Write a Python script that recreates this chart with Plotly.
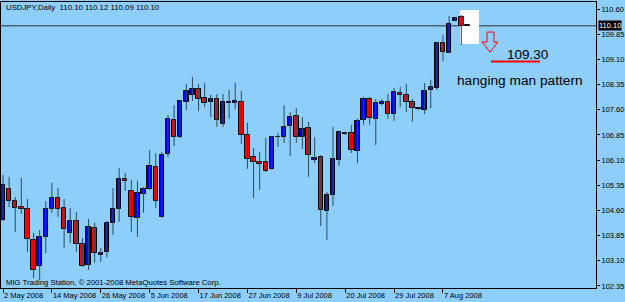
import plotly.graph_objects as go

# ---- data ----
tick_labels = ["2 May 2008", "14 May 2008", "26 May 2008", "5 Jun 2008", "17 Jun 2008",
               "27 Jun 2008", "9 Jul 2008", "20 Jul 2008", "29 Jul 2008", "7 Aug 2008"]
tick_index = [0, 8, 16, 24, 32, 40, 48, 56, 64, 72]

opens = [104.32, 105.24, 104.88, 104.70, 104.64, 103.72, 102.95, 103.81, 104.64, 104.97,
         104.67, 103.93, 104.29, 103.60, 102.98, 104.08, 103.28, 103.37, 104.23, 104.64,
         105.54, 105.18, 104.38, 105.09, 105.24, 105.90, 104.41, 106.28, 107.30, 106.79,
         107.83, 108.04, 108.22, 107.95, 107.83, 107.92, 107.18, 107.83, 107.80, 107.83,
         106.85, 106.19, 106.04, 106.04, 105.84, 106.78, 106.79, 107.12, 107.41, 106.79,
         107.06, 106.10, 106.19, 104.58, 105.06, 106.10, 106.88, 106.91, 106.37, 107.30,
         107.92, 107.33, 107.77, 107.83, 107.47, 108.10, 108.04, 107.83, 107.65, 107.59,
         108.19, 108.25, 109.59, 109.29, 110.24, 110.36, 110.10]
highs = [105.66, 105.60, 105.00, 105.57, 104.94, 103.93, 104.02, 104.88, 105.42, 105.27,
         104.94, 104.67, 104.55, 103.78, 104.35, 104.23, 103.48, 104.29, 105.27, 105.87,
         105.72, 105.51, 105.48, 105.30, 106.40, 106.31, 106.34, 107.44, 107.74, 107.89,
         108.37, 108.58, 108.37, 108.40, 108.04, 108.07, 108.07, 108.19, 108.40, 108.16,
         107.21, 106.46, 106.34, 106.76, 106.82, 106.91, 107.74, 107.53, 107.65, 107.38,
         107.24, 106.79, 106.25, 105.15, 107.09, 106.97, 106.94, 107.15, 107.33, 107.98,
         107.98, 107.92, 107.92, 108.07, 108.25, 108.28, 108.37, 107.92, 107.68, 108.40,
         108.49, 109.62, 109.83, 110.39, 110.36, 110.42, 110.12]
lows = [104.29, 104.70, 103.96, 104.50, 103.37, 102.59, 102.53, 103.33, 104.53, 104.41,
        103.48, 103.63, 103.37, 102.92, 102.83, 103.04, 103.07, 103.21, 103.87, 104.26,
        105.18, 103.96, 103.81, 104.53, 105.21, 104.67, 104.38, 106.19, 106.52, 106.76,
        107.59, 107.86, 107.56, 107.68, 107.38, 107.09, 107.09, 107.33, 107.62, 106.58,
        105.84, 104.97, 105.21, 105.75, 105.81, 106.49, 106.61, 106.22, 106.61, 106.43,
        105.60, 106.01, 104.14, 103.72, 104.73, 105.93, 106.85, 106.31, 106.01, 107.15,
        107.15, 106.55, 107.74, 107.33, 107.27, 107.68, 107.53, 107.24, 107.59, 107.47,
        107.65, 108.19, 109.05, 109.29, 110.24, 109.53, 110.09]
closes = [105.36, 104.88, 104.67, 104.64, 103.75, 102.83, 103.81, 104.64, 104.97, 104.64,
          104.05, 104.29, 103.60, 102.95, 104.11, 103.33, 103.33, 104.23, 104.64, 105.54,
          105.48, 104.41, 105.12, 105.24, 105.93, 104.88, 106.25, 107.33, 106.79, 107.86,
          108.16, 108.22, 107.92, 107.80, 107.92, 107.30, 107.83, 107.80, 107.86, 106.85,
          106.13, 106.04, 105.98, 105.78, 106.79, 106.80, 107.09, 107.38, 106.79, 107.03,
          106.25, 106.16, 104.61, 105.06, 106.13, 106.94, 106.91, 106.40, 107.27, 107.92,
          107.35, 107.80, 107.83, 107.47, 108.13, 108.04, 107.83, 107.65, 107.62, 108.16,
          108.28, 109.59, 109.32, 110.15, 110.33, 110.09, 110.10]
y_ticks = [102.35, 103.10, 103.85, 104.60, 105.35, 106.10, 106.85, 107.60, 108.35, 109.10, 109.85, 110.60]
last_price = 110.10
target_price = 109.30

BG = "#8ECEFA"
FONT = "Liberation Sans"

idx = list(range(len(opens)))

# wicks
wx, wy = [], []
for i, h, l in zip(idx, highs, lows):
    wx += [i, i, None]
    wy += [l, h, None]

# bodies
bases, heights, colors = [], [], []
for o, c in zip(opens, closes):
    lo, hi = min(o, c), max(o, c)
    bases.append(lo)
    heights.append(max(hi - lo, 0.015))
    colors.append("#0000FF" if c >= o else "#FF0000")

fig = go.Figure()
fig.add_trace(go.Scatter(x=wx, y=wy, mode="lines", line=dict(color="#2b4a60", width=1),
                         hoverinfo="skip", showlegend=False))
fig.add_trace(go.Bar(x=idx, y=heights, base=bases, width=0.72,
                     marker=dict(color=colors, line=dict(color="black", width=1)),
                     showlegend=False))

# price line and white box
fig.add_shape(type="line", xref="paper", x0=0, x1=1, yref="y", y0=last_price, y1=last_price,
              line=dict(color="#303030", width=1), layer="below")
fig.add_shape(type="rect", xref="x", yref="y", x0=74.8, x1=77.9, y0=109.56, y1=110.57,
              fillcolor="white", line=dict(width=0), layer="below")
# hollow down arrow
fig.add_shape(type="path",
              path="M 79.2,109.915 L 80.35,109.915 L 80.35,109.617 L 81.0,109.617 "
                   "L 79.7,109.32 L 78.4,109.617 L 79.2,109.617 Z",
              line=dict(color="#FF0000", width=1), fillcolor="rgba(0,0,0,0)")
# red underline
fig.add_shape(type="line", xref="x", yref="y", x0=79.86, x1=87.87, y0=109.04, y1=109.04,
              line=dict(color="#FF0000", width=2))

annotations = [
    dict(text=f"{target_price:.2f}", x=85.75, y=109.245, xref="x", yref="y", showarrow=False,
         font=dict(family=FONT, size=13.5, color="black")),
    dict(text="hanging man pattern", x=84.6, y=108.46, xref="x", yref="y", showarrow=False,
         font=dict(family=FONT, size=13.7, color="black")),
    dict(text="USDJPY,Daily\u00a0\u00a0110.10 110.12 110.09 110.10", x=0, y=0.981,
         xref="paper", yref="paper", xanchor="left", yanchor="middle", xshift=3, showarrow=False,
         font=dict(family=FONT, size=7.8, color="black")),
    dict(text="MIG Trading Station, © 2001-2008 MetaQuotes Software Corp.", x=0, y=0.0175,
         xref="paper", yref="paper", xanchor="left", yanchor="middle", xshift=3, showarrow=False,
         font=dict(family=FONT, size=7.7, color="black")),
    dict(text=f"{last_price:.2f}", x=1, y=last_price, xref="paper", yref="y", xanchor="left",
         yanchor="middle", xshift=2, showarrow=False, bgcolor="black", borderpad=0,
         font=dict(family=FONT, size=7.5, color="white")),
]

fig.update_layout(
    width=625, height=302,
    margin=dict(l=1, r=29, t=2, b=14),
    paper_bgcolor=BG, plot_bgcolor=BG,
    showlegend=False, bargap=0,
    annotations=annotations,
    xaxis=dict(range=[-0.327, 97.04], tickvals=tick_index, ticktext=tick_labels,
               ticks="outside", ticklen=4, tickcolor="black", ticklabelposition="outside right",
               tickangle=0, ticklabelstandoff=0,
               showgrid=False, zeroline=False, showline=True, mirror=True, linecolor="black",
               linewidth=1, tickfont=dict(family=FONT, size=7.5, color="black"), fixedrange=True),
    yaxis=dict(range=[102.29, 110.81], side="right", tickvals=y_ticks,
               ticktext=[f"{v:.2f}" for v in y_ticks],
               ticks="outside", ticklen=3, tickcolor="black",
               showgrid=False, zeroline=False, showline=True, mirror=True, linecolor="black",
               linewidth=1, tickfont=dict(family=FONT, size=7.5, color="black"), fixedrange=True),
)

fig.write_html("out.html")
